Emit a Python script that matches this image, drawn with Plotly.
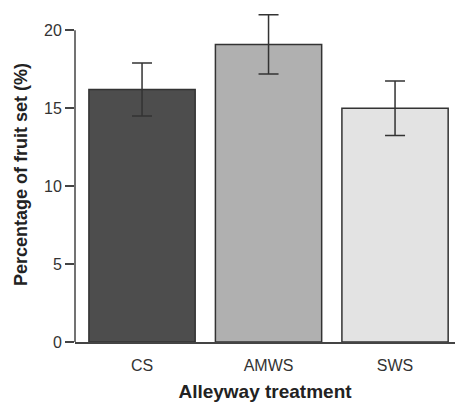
import plotly.graph_objects as go

categories = ["CS", "AMWS", "SWS"]
fruit_set = [16.2, 19.1, 15.0]
errors = [1.7, 1.9, 1.75]
bar_colors = ["#4d4d4d", "#b0b0b0", "#e3e3e3"]
y_ticks = [0, 5, 10, 15, 20]

fig = go.Figure()
fig.add_trace(go.Bar(
    x=list(range(len(categories))),
    y=fruit_set,
    marker=dict(color=bar_colors, line=dict(color="#333333", width=1.5)),
    error_y=dict(type="data", array=errors, visible=True, color="#333333",
                 thickness=1.5, width=10),
    width=0.84,
))

fig.add_shape(type="line", xref="paper", yref="y", x0=0, x1=0, y0=0, y1=20,
              line=dict(color="#444444", width=1.5))

font_family = "Liberation Sans, Arial, sans-serif"
fig.update_layout(
    width=456, height=403,
    margin=dict(l=75, r=1, t=7, b=61),
    plot_bgcolor="white", paper_bgcolor="white",
    showlegend=False,
    font=dict(family=font_family, color="#333333", size=16),
    xaxis=dict(
        range=[-0.53, 2.474],
        tickvals=list(range(len(categories))),
        ticktext=categories,
        showline=True, linecolor="#444444", linewidth=1.5,
        ticks="", showgrid=False, zeroline=False,
        automargin=False,
        ticklabelstandoff=8,
        tickfont=dict(size=16, color="#333333"),
        title=dict(text="<b>Alleyway treatment</b>", font=dict(size=19, color="#222222"), standoff=12),
    ),
    yaxis=dict(
        range=[0, 21.5],
        tickvals=y_ticks,
        showline=False, showgrid=False, zeroline=False,
        automargin=False,
        ticks="outside", ticklen=9, tickwidth=1.5, tickcolor="#444444",
        tickfont=dict(size=16, color="#333333"),
        title=dict(text="<b>Percentage of fruit set (%)</b>", font=dict(size=18, color="#222222"), standoff=11),
    ),
)

fig.write_html("out.html", config={"displayModeBar": False},
               post_script="document.body.style.margin='0';")
